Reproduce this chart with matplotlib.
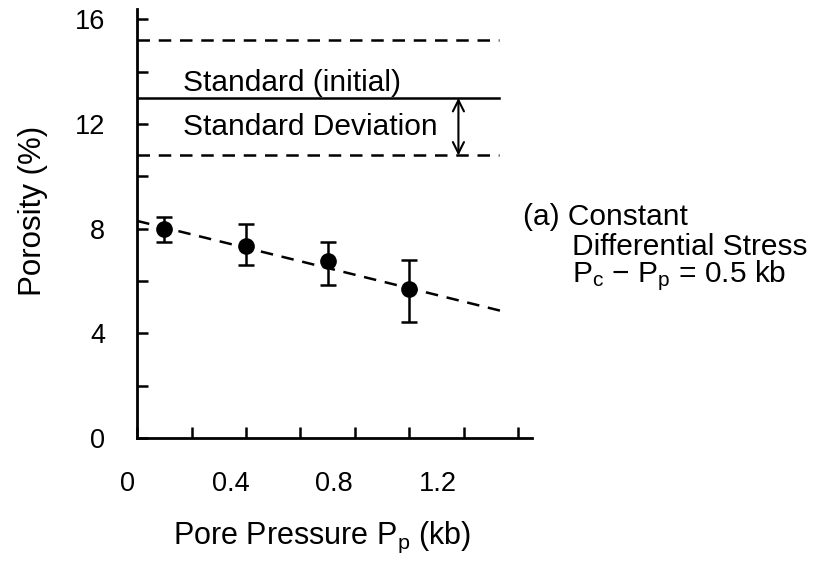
import numpy as np
import matplotlib
matplotlib.use("Agg")
import matplotlib.pyplot as plt
from matplotlib.transforms import ScaledTranslation

plt.rcParams['font.family'] = ['Liberation Sans', 'DejaVu Sans']
plt.rcParams['mathtext.fontset'] = 'custom'
plt.rcParams['mathtext.rm'] = 'Liberation Sans'
plt.rcParams['mathtext.it'] = 'Liberation Sans'

# data
pore_pressure = [0.1, 0.4, 0.7, 1.0]
porosity = [8.0, 7.35, 6.75, 5.7]
err_low = [0.5, 0.75, 0.9, 1.25]
err_high = [0.45, 0.85, 0.75, 1.1]

standard_mean = 13.0
standard_sd = 2.2

fit_x = [0.0, 1.36]
fit_y = [8.3, 4.8]

x_ticks = [0, 0.2, 0.4, 0.6, 0.8, 1.0, 1.2, 1.4]
x_labels = ['0', '', '0.4', '', '0.8', '', '1.2', '']
y_ticks = [0, 2, 4, 6, 8, 10, 12, 14, 16]
y_labels = ['0', '', '4', '', '8', '', '12', '', '16']

fig = plt.figure(figsize=(8.26, 5.63), dpi=100)
ax = fig.add_axes([0.166, 0.222, 0.478, 0.762])

# standard line and its deviation band
ax.plot([0, 1.33], [standard_mean, standard_mean], color='black', lw=1.8)
for yv in (standard_mean + standard_sd, standard_mean - standard_sd):
    ax.plot([0, 1.33], [yv, yv], color='black', lw=1.8, ls=(0, (5, 3.5)))
ax.annotate('', xy=(1.18, standard_mean - standard_sd), xytext=(1.18, standard_mean),
            arrowprops=dict(arrowstyle='<->', color='black', lw=1.5,
                            shrinkA=0, shrinkB=0, mutation_scale=20))
ax.text(0.17, 13.25, 'Standard (initial)', fontsize=21.5, va='baseline')
ax.text(0.17, 11.9, 'Standard Deviation', fontsize=21.5, va='center')

# fitted trend and measurements
ax.plot(fit_x, fit_y, color='black', lw=1.8, ls=(0, (5, 3.5)))
ax.errorbar(pore_pressure, porosity, yerr=[err_low, err_high], fmt='o',
            color='black', ms=11, capsize=6, capthick=1.8, elinewidth=1.8)

ax.set_xlim(0, 1.45)
ax.set_ylim(0, 16.4)
ax.set_xticks(x_ticks)
ax.set_xticklabels(x_labels)
ax.set_yticks(y_ticks)
ax.set_yticklabels(y_labels)
ax.tick_params(direction='in', length=8, width=1.8, labelsize=19.5, pad=24)
ax.tick_params(axis='y', pad=23)
# the printed labels sit a little left of their ticks, more so further right
for i, lab in enumerate(ax.get_xticklabels()):
    shift = -(10 + 2.7 * i) / fig.dpi
    lab.set_transform(lab.get_transform() + ScaledTranslation(shift, 0, fig.dpi_scale_trans))

for s in ('top', 'right'):
    ax.spines[s].set_visible(False)
for s in ('left', 'bottom'):
    ax.spines[s].set_linewidth(2.0)

ax.set_xlabel(r'Pore Pressure P$_\mathregular{p}$ (kb)', fontsize=22)
ax.set_ylabel('Porosity (%)', fontsize=22.5)
ax.xaxis.set_label_coords(0.468, -0.19)
ax.yaxis.set_label_coords(-0.226, 0.53)

fig.text(0.633, 0.615, '(a) Constant', fontsize=21.5, va='center')
fig.text(0.6925, 0.561, 'Differential Stress', fontsize=21.5, va='center')
fig.text(0.6925, 0.51, r'P$_\mathregular{c}$ $-$ P$_\mathregular{p}$ = 0.5 kb', fontsize=21.5, va='center')

fig.savefig('out.png', dpi=100)
